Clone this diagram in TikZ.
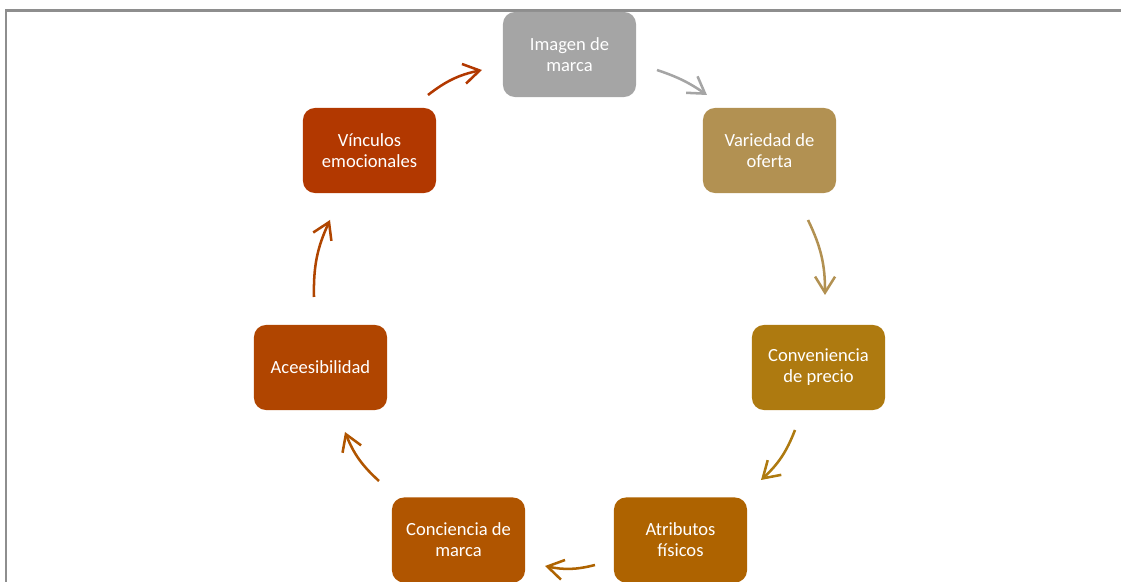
\documentclass[tikz,border=0pt]{standalone}
\usepackage{fontspec}
\setmainfont{Carlito}
\usetikzlibrary{arrows.meta}

\definecolor{cframe}{HTML}{8E8E8E}
\definecolor{cimg}{HTML}{A5A5A5}
\definecolor{cvar}{HTML}{B29152}
\definecolor{cconv}{HTML}{AE7A10}
\definecolor{catr}{HTML}{AE6300}
\definecolor{cconc}{HTML}{B05500}
\definecolor{cacc}{HTML}{B04500}
\definecolor{cvin}{HTML}{B23800}

\begin{document}
\begin{tikzpicture}[x=0.025cm, y=-0.025cm,
    box/.style={rounded corners=0.3cm, minimum width=3.325cm, minimum height=2.125cm,
      inner sep=0pt, text=white, align=center, font=\fontsize{13.2}{15}\selectfont},
    cyc/.style={line width=1.8pt, -{Straight Barb[length=0.4cm, width=0.5cm]}, bend left=13}]

    \useasboundingbox (0,0) rectangle (1121,582);
    \draw[line width=1.5pt, cframe] (6,582) -- (6,10.5) -- (1121,10.5);

    % the seven boxes
    \node[box, fill=cimg] (img) at (569.5,54.5) {Imagen de\\marca};
    \node[box, fill=cvar] (var) at (769.5,150.5) {Variedad de\\oferta};
    \node[box, fill=cconv] (conv) at (818.5,367.5) {Conveniencia\\de precio};
    \node[box, fill=catr] (atr) at (680.5,540) {Atributos\\físicos};
    \node[box, fill=cconc] (conc) at (458.5,540) {Conciencia de\\marca};
    \node[box, fill=cacc] (acc) at (320.5,367.5) {Aceesibilidad};
    \node[box, fill=cvin] (vin) at (369.5,150.5) {Vínculos\\emocionales};

    % arrow ends
    \coordinate (img-out) at (657,70);
    \coordinate (var-in) at (707,95);
    \coordinate (var-out) at (808,220);
    \coordinate (conv-in) at (825,295);
    \coordinate (conv-out) at (795,430);
    \coordinate (atr-in) at (761,480);
    \coordinate (atr-out) at (595,565);
    \coordinate (conc-in) at (545,566);
    \coordinate (conc-out) at (379,481);
    \coordinate (acc-in) at (345,432);
    \coordinate (acc-out) at (314,297);
    \coordinate (vin-in) at (330,220);
    \coordinate (vin-out) at (428,95);
    \coordinate (img-in) at (482,70);

    \draw[cyc, cimg, bend left=8] (img-out) to (var-in);
    \draw[cyc, cvar] (var-out) to (conv-in);
    \draw[cyc, cconv] (conv-out) to (atr-in);
    \draw[cyc, catr] (atr-out) to (conc-in);
    \draw[cyc, cconc] (conc-out) to (acc-in);
    \draw[cyc, cacc] (acc-out) to (vin-in);
    \draw[cyc, cvin] (vin-out) to (img-in);
\end{tikzpicture}
\end{document}
